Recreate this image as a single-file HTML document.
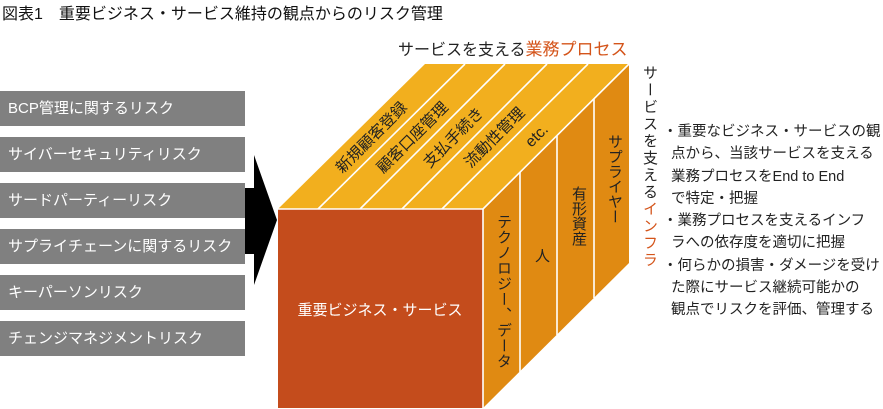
<!DOCTYPE html>
<html><head><meta charset="utf-8"><style>
body{margin:0;width:883px;height:409px;background:#fff;overflow:hidden;font-family:"Liberation Sans","Noto Sans CJK JP",sans-serif;}
.box{position:absolute;left:0;width:245px;height:35px;background:#808080;color:#fff;font-size:15px;line-height:35px;padding-left:8px;box-sizing:border-box;}
.abs{position:absolute;white-space:nowrap;}
.v{writing-mode:vertical-rl;font-size:15px;color:#222;position:absolute;}
</style></head><body>
<div class="abs" style="left:2px;top:0px;font-size:16px;color:#111;">図表1　重要ビジネス・サービス維持の観点からのリスク管理</div>
<div class="box" style="top:91px">BCP管理に関するリスク</div>
<div class="box" style="top:137px">サイバーセキュリティリスク</div>
<div class="box" style="top:183px">サードパーティーリスク</div>
<div class="box" style="top:229px">サプライチェーンに関するリスク</div>
<div class="box" style="top:275px">キーパーソンリスク</div>
<div class="box" style="top:321px">チェンジマネジメントリスク</div>
<svg width="883" height="409" style="position:absolute;left:0;top:0">
<polygon points="245,188 254,188 254,155 277,220 254,285 254,254 245,254" fill="#000"/>
<polygon points="278,209 425,64 629,64 483,209" fill="#F2AF1E"/>
<polygon points="483,209 629,64 629,263 483,408" fill="#E08A12"/>
<rect x="278" y="209" width="205" height="199" fill="#C44C1C"/>
<g stroke="#fff" stroke-width="1.6" fill="none">
<line x1="318" y1="209" x2="465" y2="64"/>
<line x1="360" y1="209" x2="505" y2="64"/>
<line x1="402" y1="209" x2="547" y2="64"/>
<line x1="442" y1="209" x2="588" y2="64"/>
<line x1="483" y1="209" x2="629" y2="64"/>
<line x1="278" y1="209" x2="483" y2="209"/>
<line x1="483" y1="209" x2="483" y2="408"/>
<line x1="520" y1="172" x2="520" y2="372"/>
<line x1="557" y1="136" x2="557" y2="335"/>
<line x1="594" y1="99" x2="594" y2="298"/>
</g>
<g font-size="15.5" fill="#222" text-anchor="middle" dominant-baseline="central">
<text transform="translate(372,138) rotate(-45)">新規顧客登録</text>
<text transform="translate(413,138) rotate(-45)">顧客口座管理</text>
<text transform="translate(454,138) rotate(-45)">支払手続き</text>
<text transform="translate(495,138) rotate(-45)">流動性管理</text>
<text transform="translate(537,136) rotate(-45)">etc.</text>
</g>
<text x="380" y="315" font-size="15" fill="#fff" text-anchor="middle">重要ビジネス・サービス</text>
</svg>
<div class="v" style="left:493px;top:214px;letter-spacing:0.5px">テクノロジー、データ</div>
<div class="v" style="left:531px;top:248px;">人</div>
<div class="v" style="left:568px;top:186px;">有形資産</div>
<div class="v" style="left:604px;top:134px;">サプライヤー</div>
<div class="abs" style="left:398px;top:35px;font-size:16px;color:#222;">サービスを支える<span style="color:#D4541A;font-size:17px">業務プロセス</span></div>
<div class="v" style="left:639px;top:65px;letter-spacing:2px;">サービスを支える<span style="color:#D4541A">インフラ</span></div>
<div class="abs" style="left:663px;top:121px;font-size:14.5px;line-height:22.3px;color:#222;">
・重要なビジネス・サービスの観<br>&nbsp;&nbsp;点から、当該サービスを支える<br>&nbsp;&nbsp;業務プロセスをEnd to End<br>&nbsp;&nbsp;で特定・把握<br>・業務プロセスを支えるインフ<br>&nbsp;&nbsp;ラへの依存度を適切に把握<br>・何らかの損害・ダメージを受け<br>&nbsp;&nbsp;た際にサービス継続可能かの<br>&nbsp;&nbsp;観点でリスクを評価、管理する
</div>
</body></html>
